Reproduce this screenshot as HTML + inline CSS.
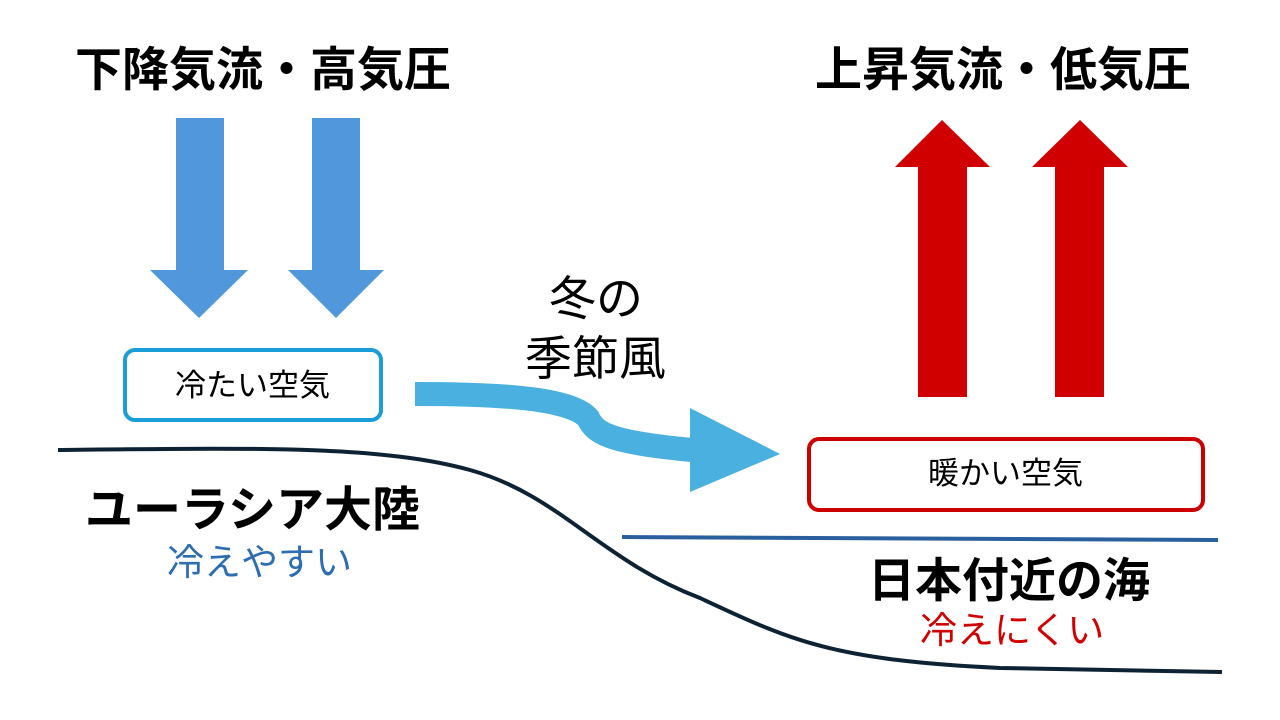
<!DOCTYPE html>
<html><head><meta charset="utf-8"><style>
body{margin:0;width:1280px;height:720px;background:#fff;position:relative;overflow:hidden;font-family:"Liberation Sans","Noto Sans CJK JP",sans-serif}
.t{position:absolute;white-space:nowrap;line-height:1}
</style></head><body>
<svg width="1280" height="720" style="position:absolute;left:0;top:0">
<g fill="#5197dc">
<polygon points="176,118 224,118 224,270 248,270 199,318 150,270 176,270"/>
<polygon points="312,118 360,118 360,270 384,270 336,318 288,270 312,270"/>
</g>
<g fill="#d00000">
<polygon points="942,120 990,167 967,167 967,397 918,397 918,167 895,167"/>
<polygon points="1080,120 1128,167 1104,167 1104,397 1055,397 1055,167 1032,167"/>
</g>
<rect x="125" y="350" width="256" height="70" rx="10" fill="none" stroke="#1a9ed8" stroke-width="4"/>
<rect x="809" y="439" width="394" height="71" rx="10" fill="none" stroke="#cc0000" stroke-width="4"/>
<path d="M415,394 C500,394 570,398 588,418 C595,432 605,442 692,450" fill="none" stroke="#4ab0e0" stroke-width="24"/>
<polygon points="690,408 780,454 690,492" fill="#4ab0e0"/>
<path d="M58,450 C250,448 380,445 470,470 C560,495 600,560 700,598 C790,640 830,660 1000,668 L1222,672" fill="none" stroke="#0d2233" stroke-width="4"/>
<line x1="622" y1="537" x2="1218" y2="540" stroke="#2a5f9e" stroke-width="4"/>
</svg>
<div class="t" style="left:75px;top:46px;font-size:47px;font-weight:bold">下降気流・高気圧</div>
<div class="t" style="left:815px;top:46px;font-size:47px;font-weight:bold">上昇気流・低気圧</div>
<div class="t" style="left:175px;top:370px;font-size:31px">冷たい空気</div>
<div class="t" style="left:928px;top:458px;font-size:31px">暖かい空気</div>
<div class="t" style="left:549px;top:275px;font-size:47px">冬の</div>
<div class="t" style="left:525px;top:335px;font-size:47px">季節風</div>
<div class="t" style="left:85px;top:487px;font-size:48px;font-weight:bold">ユーラシア大陸</div>
<div class="t" style="left:167px;top:544px;font-size:37px;color:#2e6db0">冷えやすい</div>
<div class="t" style="left:868px;top:557px;font-size:47px;font-weight:bold">日本付近の海</div>
<div class="t" style="left:920px;top:612px;font-size:37px;color:#d00000">冷えにくい</div>
</body></html>
